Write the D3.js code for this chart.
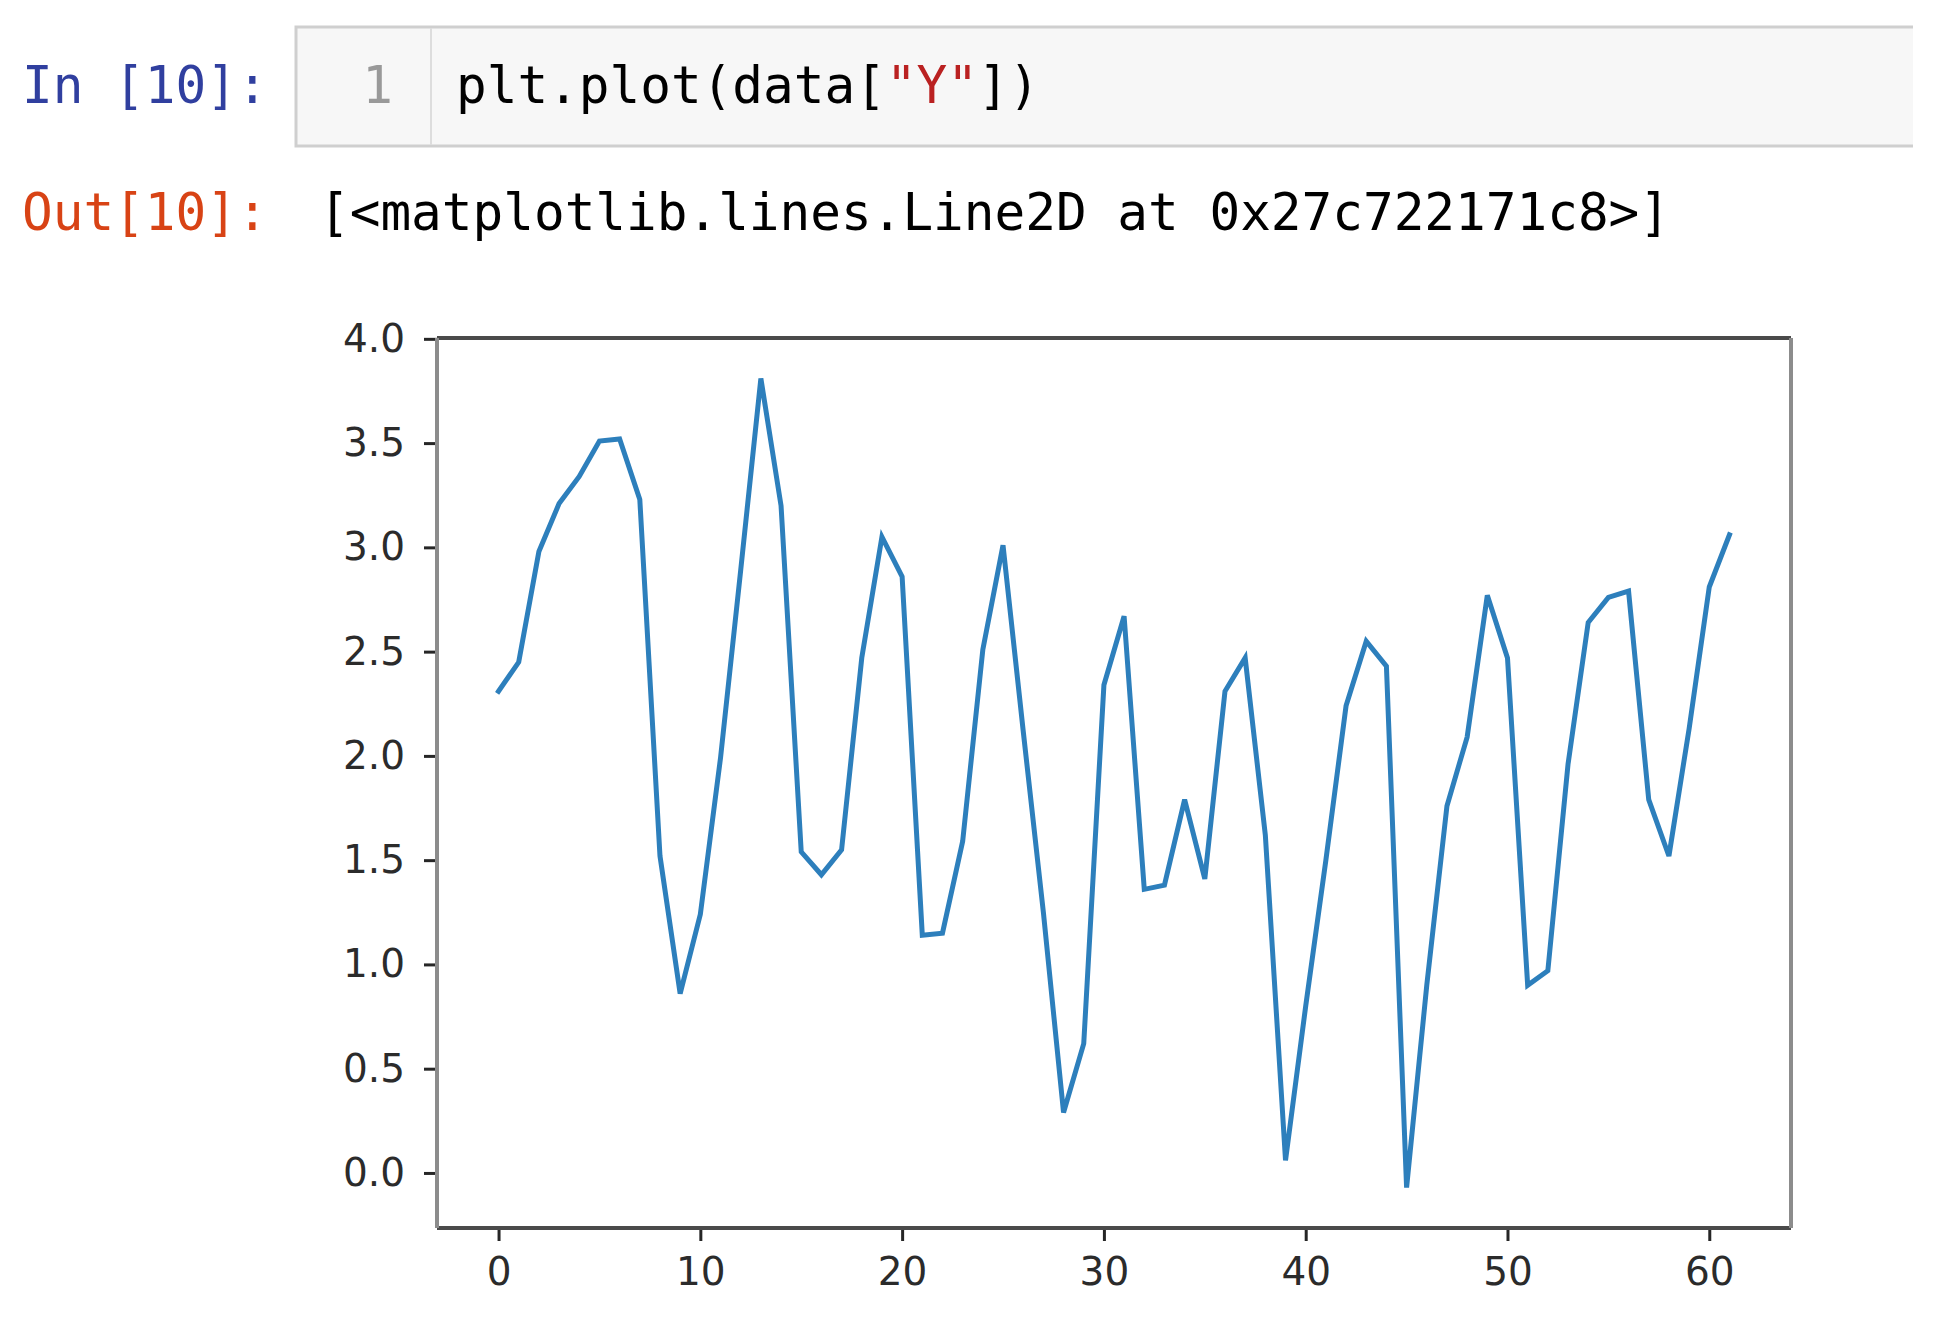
<!DOCTYPE html>
<html>
<head>
<meta charset="utf-8">
<script src="https://cdn.jsdelivr.net/npm/d3@7"></script>
<style>
  html, body { margin: 0; padding: 0; background: #ffffff; }
  svg { display: block; }
</style>
</head>
<body>
<svg id="chart" width="1942" height="1318"></svg>
<script>
// ---- data ----
const yValues = [2.31, 2.45, 2.98, 3.21, 3.34, 3.51, 3.52, 3.23, 1.52, 0.86,
                 1.24, 1.99, 2.89, 3.81, 3.20, 1.54, 1.43, 1.55, 2.47, 3.05,
                 2.86, 1.14, 1.15, 1.59, 2.51, 3.01, 2.12, 1.25, 0.29, 0.62,
                 2.34, 2.67, 1.36, 1.38, 1.79, 1.41, 2.31, 2.47, 1.62, 0.06,
                 0.80, 1.50, 2.24, 2.55, 2.43, -0.07, 0.90, 1.76, 2.09, 2.77,
                 2.47, 0.90, 0.97, 1.96, 2.64, 2.76, 2.79, 1.79, 1.52, 2.13,
                 2.81, 3.06];
const xIndex = yValues.map((_, i) => i);
const xTicks = [0, 10, 20, 30, 40, 50, 60];
const yTicks = [0.0, 0.5, 1.0, 1.5, 2.0, 2.5, 3.0, 3.5, 4.0];
const inPrompt = "In [10]:";
const outPrompt = "Out[10]:";
const lineNumber = "1";
const codeParts = [
  {text: "plt.plot(data[", color: "#000000"},
  {text: "\"Y\"", color: "#BA2121"},
  {text: "])", color: "#000000"}
];
const outText = "[<matplotlib.lines.Line2D at 0x27c722171c8>]";

const svg = d3.select("#chart");
const mono = "'DejaVu Sans Mono', 'Liberation Mono', monospace";

// ---- notebook header ----
const box = {x0: 296, x1: 1913, y0: 27, y1: 146};
svg.append("rect").attr("x", box.x0).attr("y", box.y0).attr("width", box.x1 - box.x0).attr("height", box.y1 - box.y0)
  .attr("fill", "#f7f7f7");
svg.append("path")
  .attr("d", `M${box.x1},${box.y0}H${box.x0}V${box.y1}H${box.x1}`)
  .attr("fill", "none").attr("stroke", "#cfcfcf").attr("stroke-width", 3);
svg.append("line").attr("x1", 431).attr("x2", 431).attr("y1", box.y0 + 1).attr("y2", box.y1 - 1)
  .attr("stroke", "#dddddd").attr("stroke-width", 2);

svg.append("text").attr("x", 22).attr("y", 103).attr("font-family", mono)
  .attr("font-size", 51).attr("fill", "#303F9F").text(inPrompt);
svg.append("text").attr("x", 393).attr("y", 103).attr("font-family", mono)
  .attr("text-anchor", "end").attr("font-size", 51).attr("fill", "#999999").text(lineNumber);
const code = svg.append("text").attr("x", 456).attr("y", 103).attr("font-family", mono)
  .attr("font-size", 51);
code.selectAll("tspan").data(codeParts).join("tspan")
  .attr("fill", d => d.color).text(d => d.text);

svg.append("text").attr("x", 22).attr("y", 230).attr("font-family", mono)
  .attr("font-size", 51).attr("fill", "#D84315").text(outPrompt);
svg.append("text").attr("x", 319).attr("y", 230).attr("font-family", mono)
  .attr("font-size", 51).attr("fill", "#000000").text(outText);

// ---- plot ----
const frame = {left: 437, right: 1791, top: 338, bottom: 1228};
const xMin = d3.min(xIndex), xMax = d3.max(xIndex);
const xPad = (xMax - xMin) * 0.05;
const yMin = d3.min(yValues), yMax = d3.max(yValues);
const yPad = (yMax - yMin) * 0.05;

const x = d3.scaleLinear().domain([xMin - xPad, xMax + xPad]).range([frame.left, frame.right]);
const y = d3.scaleLinear().domain([yMin - yPad, yMax + yPad]).range([frame.bottom, frame.top]);

const tickFont = "'DejaVu Sans', 'Liberation Sans', sans-serif";

const yAxis = svg.append("g").attr("transform", `translate(${frame.left},0)`)
  .call(d3.axisLeft(y).tickValues(yTicks).tickFormat(d3.format(".1f")).tickSize(13).tickPadding(19));
const xAxis = svg.append("g").attr("transform", `translate(0,${frame.bottom})`)
  .call(d3.axisBottom(x).tickValues(xTicks).tickFormat(d3.format("d")).tickSize(13).tickPadding(16));

[xAxis, yAxis].forEach(g => {
  g.select(".domain").remove();
  g.selectAll(".tick line").attr("stroke", "#262626").attr("stroke-width", 3);
  g.selectAll(".tick text").attr("fill", "#2b2b2b").attr("font-family", tickFont)
    .attr("font-size", 39);
});

// line
const line = d3.line().x((d, i) => x(xIndex[i])).y(d => y(d));
svg.append("path").datum(yValues).attr("d", line)
  .attr("fill", "none").attr("stroke", "#2d7fbc").attr("stroke-width", 5)
  .attr("stroke-linejoin", "miter").attr("stroke-linecap", "square");

// spines
svg.append("line").attr("x1", frame.left).attr("x2", frame.right).attr("y1", frame.top).attr("y2", frame.top)
  .attr("stroke", "#4a4a4a").attr("stroke-width", 4);
svg.append("line").attr("x1", frame.left).attr("x2", frame.right).attr("y1", frame.bottom).attr("y2", frame.bottom)
  .attr("stroke", "#4a4a4a").attr("stroke-width", 4);
svg.append("line").attr("x1", frame.left).attr("x2", frame.left).attr("y1", frame.top).attr("y2", frame.bottom)
  .attr("stroke", "#8c8c8c").attr("stroke-width", 4);
svg.append("line").attr("x1", frame.right).attr("x2", frame.right).attr("y1", frame.top).attr("y2", frame.bottom)
  .attr("stroke", "#8c8c8c").attr("stroke-width", 4);
</script>
</body>
</html>
